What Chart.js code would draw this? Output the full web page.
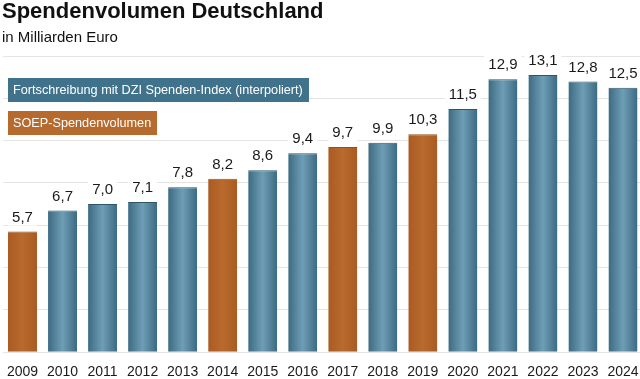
<!DOCTYPE html>
<html>
<head>
<meta charset="utf-8">
<script src="https://cdn.jsdelivr.net/npm/chart.js@4/dist/chart.umd.min.js"></script>
<style>
  html, body { margin: 0; padding: 0; background: #fff; overflow: hidden; width: 640px; height: 379px; }
  .wrap { position: relative; width: 640px; height: 379px; overflow: hidden; }
  #chart { position: absolute; left: 0; top: 0; }
  .title { position: absolute; left: 2px; top: 0; font: bold 22px/22px "Liberation Sans Narrow", sans-serif; color: #111; }
  .subtitle { position: absolute; left: 2px; top: 29px; font: 15px/15px "Liberation Sans Narrow", sans-serif; color: #111; }
  .legend { position: absolute; left: 8px; top: 78px; }
  .legend div { height: 24px; line-height: 24px; padding: 0 6px 0 5px; margin-bottom: 9px; color: #fff;
    font: 12.7px/24px "Liberation Sans Narrow", sans-serif; display: table; }
</style>
</head>
<body>
<div class="wrap">
  <canvas id="chart" width="643" height="382"></canvas>
  <div class="title">Spendenvolumen Deutschland</div>
  <div class="subtitle">in Milliarden Euro</div>
  <div class="legend" id="legend"></div>
</div>
<script>
const years = ['2009', '2010', '2011', '2012', '2013', '2014', '2015', '2016',
  '2017', '2018', '2019', '2020', '2021', '2022', '2023', '2024'];
// DZI index (blue) and SOEP (orange) values, null where the other series applies
const dziValues = [null, 6.7, 7.0, 7.1, 7.8, null, 8.6, 9.4, null, 9.9, null, 11.5, 12.9, 13.1, 12.8, 12.5];
const soepValues = [5.7, null, null, null, null, 8.2, null, null, 9.7, null, 10.3, null, null, null, null, null];
const seriesNames = ['Fortschreibung mit DZI Spenden-Index (interpoliert)', 'SOEP-Spendenvolumen'];

const BAR_PCT = 0.725;

function barGradient(c, edge, mid) {
  const chart = c.chart;
  if (!chart.chartArea || c.dataIndex === undefined) return mid;
  const xs = chart.scales.x;
  const cx = xs.getPixelForValue(c.dataIndex);
  const half = xs.width / years.length * BAR_PCT / 2;
  const g = chart.ctx.createLinearGradient(cx - half, 0, cx + half, 0);
  g.addColorStop(0, edge);
  g.addColorStop(0.5, mid);
  g.addColorStop(1, edge);
  return g;
}

const fmt = v => v.toFixed(1).replace('.', ',');

const valueLabels = {
  id: 'valueLabels',
  afterDatasetsDraw(chart) {
    const ctx = chart.ctx;
    ctx.save();
    ctx.font = '15px "Liberation Sans Narrow", sans-serif';
    ctx.textAlign = 'center';
    ctx.textBaseline = 'middle';
    chart.data.datasets.forEach((ds, i) => {
      chart.getDatasetMeta(i).data.forEach((bar, j) => {
        const v = ds.data[j];
        if (v == null) return;
        const txt = fmt(v);
        const y = bar.y - 15;
        const w = ctx.measureText(txt).width;
        ctx.fillStyle = '#fff';
        ctx.fillRect(bar.x - w / 2 - 4, y - 9, w + 8, 18);
        ctx.fillStyle = '#1a1a1a';
        ctx.fillText(txt, bar.x, y + 1);
      });
    });
    ctx.restore();
  }
};

const chart = new Chart(document.getElementById('chart'), {
  type: 'bar',
  data: {
    labels: years,
    datasets: [
      {
        label: seriesNames[0],
        data: dziValues,
        backgroundColor: c => barGradient(c, '#3c6a82', '#6e9eb5'),
        legendColor: '#41728b',
        borderColor: '#2e566b',
        borderWidth: { top: 1, left: 0, right: 0, bottom: 0 },
        borderSkipped: 'bottom',
      },
      {
        label: seriesNames[1],
        data: soepValues,
        backgroundColor: c => barGradient(c, '#a95b22', '#b96a2d'),
        legendColor: '#b66a2d',
        borderColor: '#96501d',
        borderWidth: { top: 1, left: 0, right: 0, bottom: 0 },
        borderSkipped: 'bottom',
      },
    ],
  },
  options: {
    responsive: false,
    animation: false,
    layout: { padding: { left: 2.5, right: 0, top: 56, bottom: 0 } },
    barPercentage: BAR_PCT,
    categoryPercentage: 1,
    plugins: {
      legend: { display: false },
      tooltip: { enabled: false },
    },
    scales: {
      x: {
        stacked: true,
        grid: { display: false, drawTicks: true, tickLength: 11 },
        border: { display: false },
        ticks: {
          padding: 1,
          color: '#1a1a1a',
          font: { family: '"Liberation Sans Narrow", sans-serif', size: 14 },
        },
      },
      y: {
        stacked: true,
        min: 0,
        max: 14,
        afterFit: s => { s.width = 0; },
        grid: { color: '#e4e4e4', lineWidth: 1, drawTicks: false },
        border: { display: false },
        ticks: { display: false, stepSize: 2 },
      },
    },
  },
  plugins: [valueLabels],
});

// HTML legend built from the datasets
const legendEl = document.getElementById('legend');
chart.data.datasets.forEach(ds => {
  const item = document.createElement('div');
  item.textContent = ds.label;
  item.style.background = ds.legendColor;
  legendEl.appendChild(item);
});
</script>
</body>
</html>
